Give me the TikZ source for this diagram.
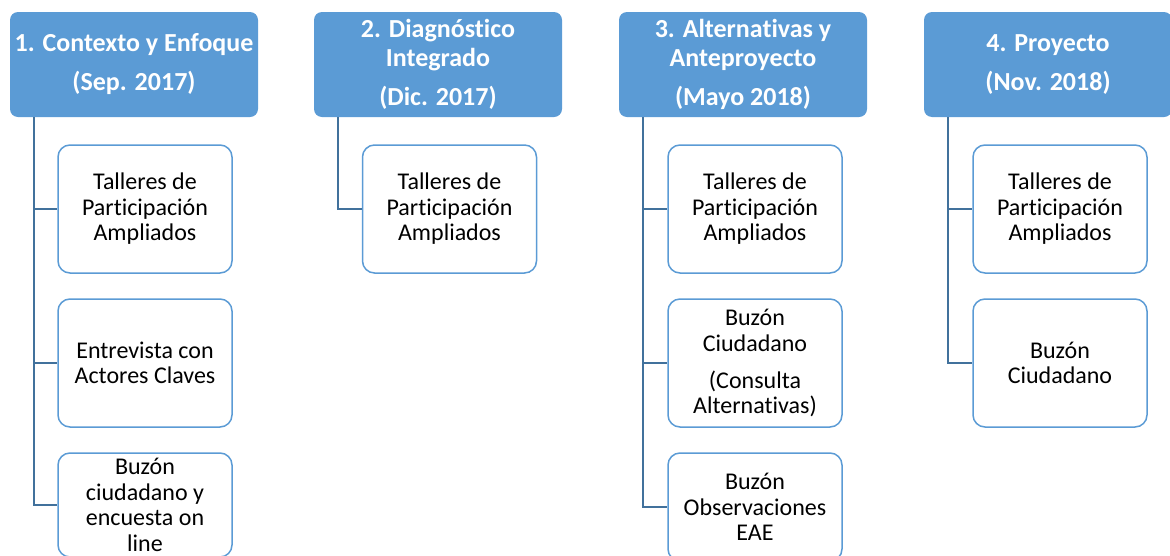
\documentclass[tikz,border=0pt]{standalone}
\usepackage{fontspec}
\setmainfont{Carlito}[Ligatures=NoCommon]
\usetikzlibrary{positioning}
\definecolor{phasecol}{HTML}{5B9BD5}
\definecolor{linkcol}{HTML}{41719C}
\newcommand{\phasefont}{\fontsize{26}{29}\selectfont\bfseries}
\newcommand{\stepfont}{\fontsize{24}{25.5}\selectfont}

\begin{document}
\begin{tikzpicture}[x=1pt,y=-1pt,
  phase/.style={fill=phasecol,draw=none,rounded corners=8pt,text=white,
                font=\phasefont,align=center,inner sep=2pt,
                minimum width=248pt,minimum height=105pt},
  act/.style={draw=phasecol,fill=white,line width=1.5pt,rounded corners=12pt,
              font=\stepfont,align=center,inner sep=2pt,
              minimum width=174pt,minimum height=128pt},
  link/.style={draw=linkcol,line width=1.6pt},
]
\useasboundingbox (0,0) rectangle (1170,555);
\clip (0,0) rectangle (1170,555);

% phases
\node[phase] (h1) at (134,64.5)  {1. Contexto y Enfoque\\[10pt](Sep. 2017)};
\node[phase] (h2) at (438,64.5)  {2. Diagnóstico\\Integrado\\[10pt](Dic. 2017)};
\node[phase] (h3) at (743,64.5)  {3. Alternativas y\\Anteproyecto\\[10pt](Mayo 2018)};
\node[phase] (h4) at (1048,64.5) {4. Proyecto\\[10pt](Nov. 2018)};

% activities
\node[act] (a11) at (145,209) {Talleres de\\Participación\\Ampliados};
\node[act] (a12) at (145,363) {Entrevista con\\Actores Claves};
\node[act,minimum height=104pt] (a13) at (145,505)
  {Buzón\\ciudadano y\\encuesta on\\line};

\node[act] (a21) at (449.5,209) {Talleres de\\Participación\\Ampliados};

\node[act] (a31) at (755,209) {Talleres de\\Participación\\Ampliados};
\node[act] (a32) at (755,363)
  {Buzón\\Ciudadano\\[11.5pt](Consulta\\Alternativas)};
\node[act,minimum height=108pt] (a33) at (755,507)
  {Buzón\\Observaciones\\EAE};

\node[act] (a41) at (1060,209) {Talleres de\\Participación\\Ampliados};
\node[act] (a42) at (1060,363) {Buzón\\Ciudadano};

% spines
\coordinate (s1) at (34,0);
\coordinate (s2) at (338,0);
\coordinate (s3) at (643,0);
\coordinate (s4) at (948,0);
\foreach \c/\k in {1/1,1/2,1/3,2/1,3/1,3/2,3/3,4/1,4/2}
  \draw[link] (h\c.south -| s\c) |- (a\c\k.west);
\end{tikzpicture}
\end{document}
